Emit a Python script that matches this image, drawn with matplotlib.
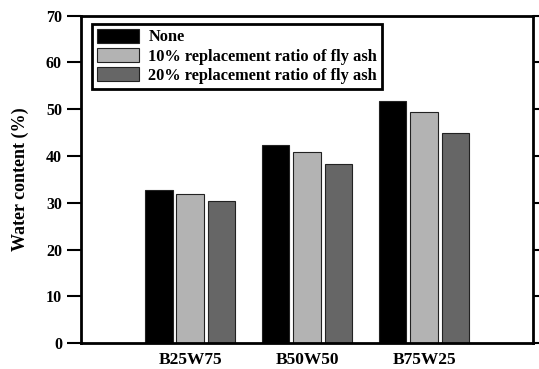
import numpy as np
import matplotlib
matplotlib.use('Agg')
import matplotlib.pyplot as plt

plt.rcParams['font.family'] = ['Liberation Serif', 'DejaVu Serif']
plt.rcParams['font.weight'] = 'bold'

# data
mixes = ['B25W75', 'B50W50', 'B75W25']
none_fa = [32.8, 42.4, 51.8]
fa_10 = [32.0, 40.8, 49.4]
fa_20 = [30.3, 38.3, 45.0]
series_names = ['None', '10% replacement ratio of fly ash', '20% replacement ratio of fly ash']
colors = ['#000000', '#b3b3b3', '#666666']

fig = plt.figure(figsize=(5.39, 3.69), dpi=100)
ax = fig.add_axes([0.151, 0.0697, 0.8375, 0.8878])

x = np.arange(1, len(mixes) + 1)
w = 0.235
step = 0.268
for i, (vals, name, c) in enumerate(zip([none_fa, fa_10, fa_20], series_names, colors)):
    ax.bar(x + (i - 1) * step, vals, width=w, color=c, edgecolor='#222222',
           linewidth=0.8, label=name)

ax.set_xlim(0.07, 3.93)
ax.set_ylim(0, 70)
ax.set_yticks(np.arange(0, 71, 10))
ax.set_xticks(x)
ax.set_xticklabels(mixes, fontsize=12.5, fontweight='bold')
ax.tick_params(axis='x', length=0, pad=6)
ax.tick_params(axis='y', direction='out', length=10, width=1.5, labelsize=11.5,
               right=True, pad=4)
for lab in ax.get_yticklabels():
    lab.set_fontweight('bold')
for s in ax.spines.values():
    s.set_linewidth(2)

ax.set_ylabel('Water content (%)', fontsize=13, fontweight='bold', labelpad=12)

leg = ax.legend(loc='upper left', bbox_to_anchor=(0.023, 0.975), fontsize=11.8,
                frameon=True, fancybox=False, framealpha=1, handlelength=2.6,
                handleheight=0.95, labelspacing=0.15, borderpad=0.3,
                handletextpad=0.55, borderaxespad=0.0)
leg.get_frame().set_edgecolor('black')
leg.get_frame().set_linewidth(2)
for t in leg.get_texts():
    t.set_fontweight('bold')

fig.savefig('out.png', dpi=100)
